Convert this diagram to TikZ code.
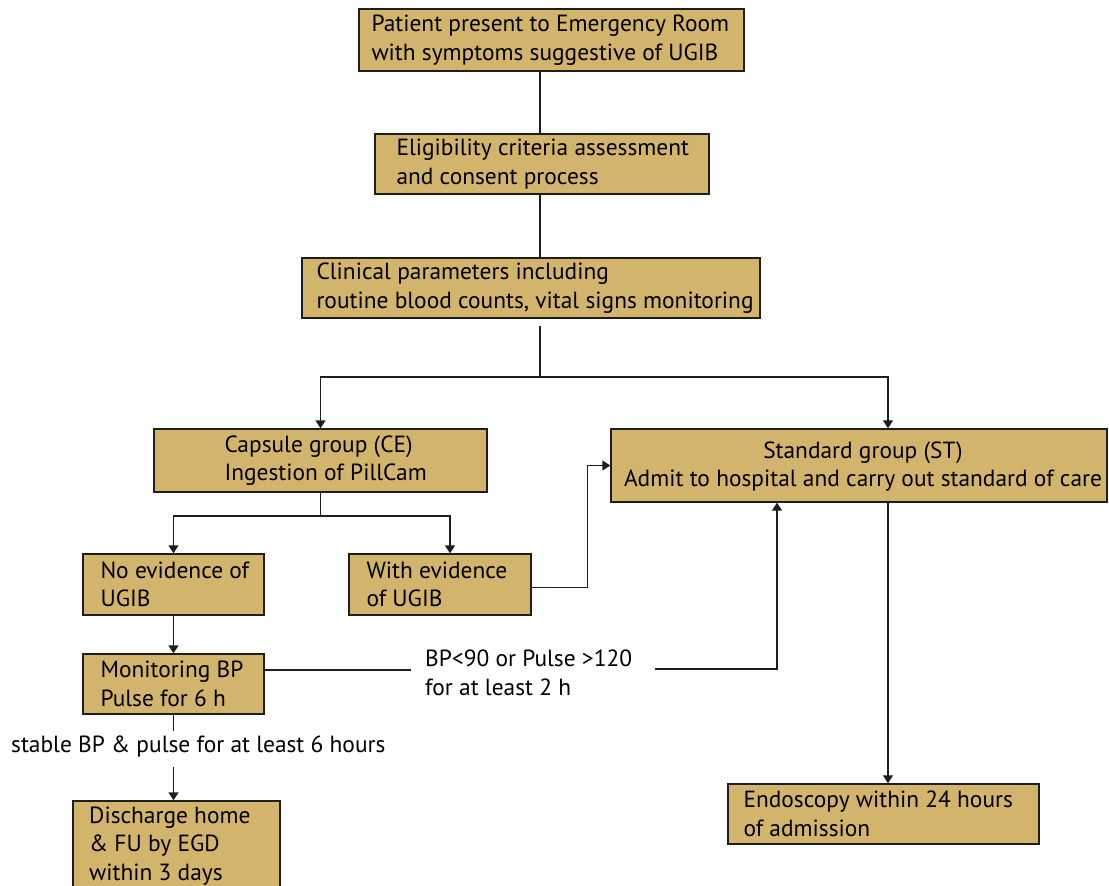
\documentclass[tikz,border=0pt]{standalone}
\usepackage{fontspec}
\setmainfont{PT Sans}
\usetikzlibrary{arrows.meta,calc}
\definecolor{boxtan}{RGB}{211,180,108}
\definecolor{linegray}{RGB}{30,30,30}
\begin{document}
\begin{tikzpicture}[x=1pt,y=-1pt,
  box/.style={draw=linegray,fill=boxtan,line width=1.4pt,rectangle,inner sep=0pt},
  txt/.style={inner sep=0pt,align=left,font=\fontsize{23.4}{28.5}\selectfont,anchor=west},
  ctxt/.style={inner sep=0pt,align=center,font=\fontsize{23.4}{28.5}\selectfont},
  conn/.style={draw=linegray,line width=1.4pt},
  arr/.style={conn,-{Triangle[length=8pt,width=10pt]}}]
\useasboundingbox (0,0) rectangle (1109,886);
\clip (0,0) rectangle (1109,886);
% boxes
\node[box,minimum width=385pt,minimum height=62pt] (b1) at (551.5,40) {};
\node[txt] (t1) at ([xshift=13pt]b1.west) {Patient present to Emergency Room\\with symptoms suggestive of UGIB};
\node[box,minimum width=334pt,minimum height=60pt] (b2) at (542,164) {};
\node[txt] (t2) at ([xshift=22pt]b2.west) {Eligibility criteria assessment\\and consent process};
\node[box,minimum width=458pt,minimum height=60pt] (b3) at (531,288) {};
\node[txt] (t3) at ([xshift=15pt]b3.west) {Clinical parameters including\\routine blood counts, vital signs monitoring};
\node[box,minimum width=333pt,minimum height=63pt] (ce) at (320.5,460.5) {};
\node[txt] (tce) at ([xshift=71pt]ce.west) {Capsule group (CE)\\Ingestion of PillCam};
\node[box,minimum width=496pt,minimum height=73pt] (st) at (859,465.5) {};
\node[ctxt] (tst) at ([xshift=4pt,yshift=-1pt]st.center) {Standard group (ST)\\Admit to hospital and carry out standard of care};
\node[box,minimum width=181pt,minimum height=61pt] (noev) at (173.5,584.5) {};
\node[txt] (tnoev) at ([xshift=18pt]noev.west) {No evidence of\\UGIB};
\node[box,minimum width=182pt,minimum height=61pt] (wev) at (440,584.5) {};
\node[txt] (twev) at ([xshift=18pt]wev.west) {With evidence\\of UGIB};
\node[box,minimum width=181pt,minimum height=60pt] (mon) at (173.5,684) {};
\node[txt] (tmon) at ([xshift=18pt]mon.west) {Monitoring BP\\Pulse for 6 h};
\node[box,minimum width=207pt,minimum height=100pt] (dis) at (176.5,851) {};
\node[txt] (tdis) at (89,846) {Discharge home\\\&~FU by EGD\\within 3 days};
\node[box,minimum width=311pt,minimum height=60pt] (endo) at (883.5,814) {};
\node[txt] (tendo) at ([xshift=16pt]endo.west) {Endoscopy within 24 hours\\of admission};
% labels
\node[txt] (lab1) at (425,673) {BP<90 or Pulse >120\\for at least 2 h};
\node[txt] (lab2) at (11,747) {stable BP \& pulse for at least 6 hours};
% coordinates
\coordinate (trunk) at (540,0);
\coordinate (s1) at (540,377);
\coordinate (stx) at (888,0);
\coordinate (s2) at (320.5,516);
\coordinate (wx) at (450,0);
\coordinate (gapL) at (411,670);
\coordinate (gapR) at (655,669);
\coordinate (upx) at (777,0);
% connectors
\draw[conn] (b1.south -| trunk) -- (b2.north -| trunk);
\draw[conn] (b2.south -| trunk) -- (b3.north -| trunk);
\draw[conn] ([yshift=-7pt]b3.south -| trunk) -- (s1);
\draw[arr] (s1) -| (ce.north);
\draw[arr] (s1) -| (stx |- st.north);
\draw[conn] (ce.south) -- (s2);
\draw[arr] (s2) -| (noev.north);
\draw[arr] (s2) -| (wx |- wev.north);
\draw[arr] ([yshift=-3pt]wev.east) -- ++(56,0) |- (st.west);
\draw[arr] (noev.south) -- (mon.north);
\draw[conn] (mon.east |- gapL) -- (gapL);
\draw[arr] (gapR) -| (upx |- st.south);
\draw[conn] (mon.south) -- ++(0,16);
\draw[arr] (mon.south |- 0,767) -- (dis.north -| mon.south);
\draw[arr] (stx |- st.south) -- (stx |- endo.north);
\end{tikzpicture}
\end{document}
